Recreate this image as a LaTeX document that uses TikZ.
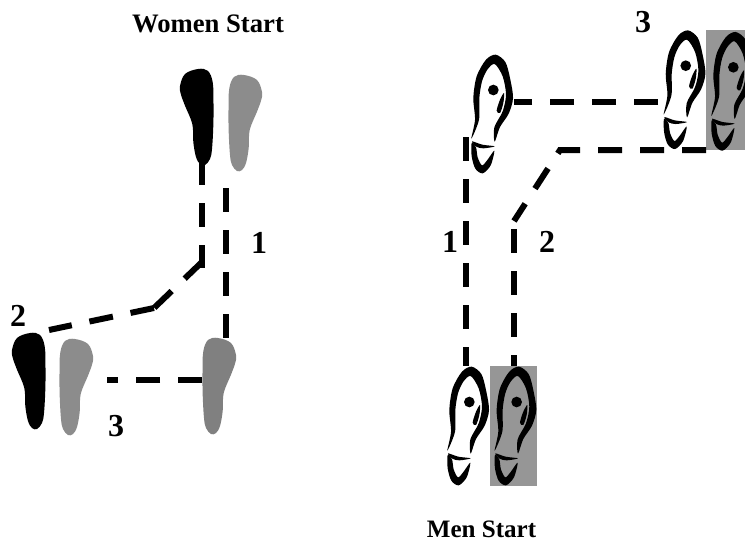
\documentclass[tikz,border=0pt]{standalone}
\usepackage{fontspec}
\setmainfont{Liberation Serif}
\definecolor{footgray}{HTML}{8C8C8C}
\definecolor{footdark}{HTML}{808080}
\definecolor{panelgray}{HTML}{969696}
\tikzset{
  solefoot/.pic={
    \fill[pic actions] plot[smooth cycle,tension=0.6] coordinates {(0,17)(5,5)(18,0)(27.7,1.7)(32.7,13.3)(33.5,35)(33.3,57)(32,80)(30,90)(25,96)(20,95)(16,88)(13.3,73)(12.3,55)(5,36.7)(0.8,25)};
  },
  shoe/.pic={
    \begin{scope}[x=0.25pt,y=-0.25pt]
      \fill[black] plot[smooth cycle,tension=0.5] coordinates {(22,272)(33,215)(28,150)(38,85)(66,35)(95,20)(124,42)(138,90)(147,150)(134,197)(108,237)(92,281)(91,238)(116,190)(126,140)(116,85)(92,48)(70,65)(54,100)(46,150)(45,215)};
      \fill[black] (88,126) circle (16);
      \fill[black] plot[smooth cycle,tension=0.5] coordinates {(120,135)(118,165)(108,195)(98,188)(108,155)};
      \fill[black] plot[smooth cycle,tension=0.5] coordinates {(24,280)(55,290)(92,295)(58,301)(37,296)};
      \fill[black] plot[smooth cycle,tension=0.5] coordinates {(23,285)(36,298)(41,328)(54,352)(70,336)(91,308)(80,352)(56,376)(34,362)(23,325)};
    \end{scope}
  },
  dashline/.style={line width=4.5pt,dash pattern=on 18pt off 13.5pt,line join=miter},
  womenlabel/.style={font=\bfseries\fontsize{20}{24}\selectfont,anchor=base},
  menlabel/.style={font=\bfseries\fontsize{18.8}{22}\selectfont,anchor=base},
  digit/.style={font=\bfseries\fontsize{24}{28}\selectfont,inner sep=0pt,text height=16pt,text depth=0pt},
}
\begin{document}
\begin{tikzpicture}[x=0.75pt,y=-0.75pt]
\clip (0,0) rectangle (745,544);
\useasboundingbox (0,0) rectangle (745,544);
% soles
\pic[black] at (180,69) {solefoot};
\pic[footgray,xscale=-1] at (262,75) {solefoot};
\pic[black] at (12,333) {solefoot};
\pic[footgray,xscale=-1] at (93,339) {solefoot};
\pic[footdark,xscale=-1] at (236,338) {solefoot};
% gray panels
\node[fill=panelgray,draw=none,minimum width=35.25pt,minimum height=90pt,inner sep=0pt,anchor=north west] (panelA) at (490,366) {};
\fill[panelgray] (706,30) rectangle (745,150);
% outline shoes
\pic at (440,360) {shoe};
\pic at (487.3,360) {shoe};
\pic at (464,48) {shoe};
\pic at (656.4,23.7) {shoe};
\pic at (704,25.3) {shoe};
% connector ends
\coordinate (wa) at (202,161);
\coordinate (wb) at (202,268);
\coordinate (wc) at (202,262);
\coordinate (wd) at (154,308);
\coordinate (we) at (49,330);
\coordinate (wf) at (226,188);
\coordinate (wg) at (226,338);
\coordinate (wh) at (202,380);
\coordinate (wi) at (107,380);
\coordinate (ma) at (466,137);
\coordinate (mb) at (466,366);
\coordinate (mc) at (514,229);
\coordinate (md) at (514,366);
\coordinate (me) at (706,150);
\coordinate (mf) at (560,150);
\coordinate (mg) at (514,221);
\coordinate (mh) at (658,102);
\coordinate (mi) at (514,102);
\draw[dashline] (wa) -- (wb);
\draw[dashline] (wc) -- (wd);
\draw[dashline] (wd) -- (we);
\draw[dashline] (wf) -- (wg);
\draw[dashline] (wh) -- (wi);
\draw[dashline] (ma) -- (mb);
\draw[dashline] (mc) -- (md);
\draw[dashline] (me) -- (mf) -- (mg);
\draw[dashline] (mh) -- (mi);
% labels
\node[womenlabel] (tw) at (208,32) {Women Start};
\node[menlabel] (tm) at (481.5,537) {Men Start};
\node[digit] (d1) at (259,243) {1};
\node[digit] (d2) at (18,316) {2};
\node[digit] (d3) at (116,426) {3};
\node[digit] (d4) at (450,242) {1};
\node[digit] (d5) at (547,242) {2};
\node[digit] (d6) at (643,21.5) {3};
\end{tikzpicture}
\end{document}
